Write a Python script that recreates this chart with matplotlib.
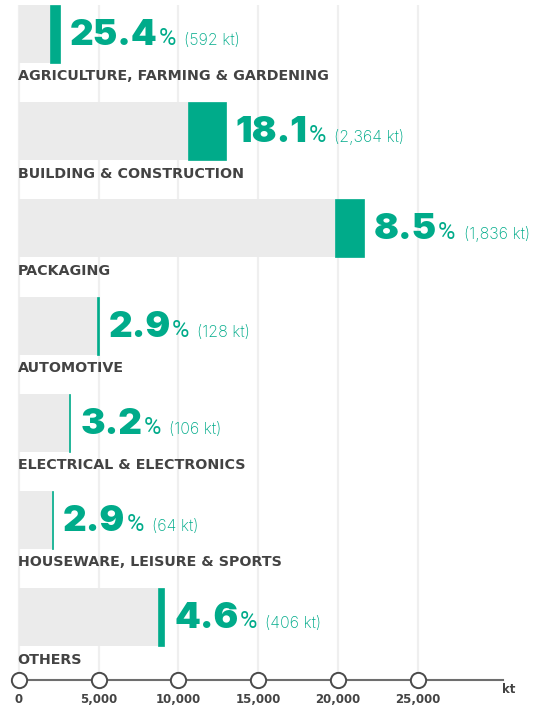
import matplotlib
matplotlib.use("Agg")
import matplotlib.pyplot as plt
import matplotlib.transforms as mtransforms

categories = ["AGRICULTURE, FARMING & GARDENING", "BUILDING & CONSTRUCTION", "PACKAGING",
              "AUTOMOTIVE", "ELECTRICAL & ELECTRONICS", "HOUSEWARE, LEISURE & SPORTS", "OTHERS"]
other_kt = [1980, 10600, 19800, 4880, 3130, 2090, 8710]
recycled_kt = [592, 2364, 1836, 128, 106, 64, 406]
rate_pct = [25.4, 18.1, 8.5, 2.9, 3.2, 2.9, 4.6]
recycled_labels = ["592", "2,364", "1,836", "128", "106", "64", "406"]
xticks = [0, 5000, 10000, 15000, 20000, 25000]
xtick_labels = ["0", "5,000", "10,000", "15,000", "20,000", "25,000"]

GREEN = "#00AB8A"
GREY = "#EBEBEB"
DARK = "#434343"
FONT = "Inter"
LABEL_FONT = "DejaVu Sans"

W, H = 537, 706
fig = plt.figure(figsize=(W / 100, H / 100), dpi=100)
ax = fig.add_axes([0, 0, 1, 1])
# x: 0 kt -> 18.7px, 25000 kt -> 417.7px
x0px, sc = 18.7, (417.7 - 18.7) / 25000
ax.set_xlim(-x0px / sc, (W - x0px) / sc)
# y: row i center at 34 + 97.2*i px from top
top0, pitch = 34.0, 97.2
ax.set_ylim((H - top0) / pitch, -top0 / pitch)
ax.axis("off")

def ypx(px):
    return (px - top0) / pitch

def off(dx=0, dy=0):
    return mtransforms.offset_copy(ax.transData, fig=fig, x=dx, y=dy, units="dots")

axis_y = ypx(680)
# gridlines
for t in xticks:
    ax.plot([t, t], [ypx(5), axis_y], color="#EFEFEF", lw=1.6, zorder=0, solid_capstyle="butt")

n = len(categories)
ys = list(range(n))
bar_h = 58 / pitch
ax.barh(ys, other_kt, height=bar_h, color=GREY, zorder=2, linewidth=0)
ax.barh(ys, recycled_kt, left=other_kt, height=bar_h, color=GREEN, zorder=3,
        edgecolor=GREEN, linewidth=0.5)

fig.canvas.draw()
renderer = fig.canvas.get_renderer()
inv = ax.transData.inverted()

for i in range(n):
    end = other_kt[i] + recycled_kt[i]
    t1 = ax.text(end, i, f"{rate_pct[i]}", transform=off(10, -11), fontsize=26.5,
                 fontweight=900, family=FONT, color=GREEN, ha="left", va="baseline", zorder=5)
    bb = t1.get_window_extent(renderer)
    xd = inv.transform((bb.x1 + 1, 0))[0]
    t2 = ax.text(xd, i, "%", transform=off(0, -11), fontsize=17, fontweight="normal",
                 family="Roboto", color=GREEN, ha="left", va="baseline", zorder=5)
    bb2 = t2.get_window_extent(renderer)
    xd2 = inv.transform((bb2.x1 + 8, 0))[0]
    ax.text(xd2, i, f"({recycled_labels[i]} kt)", transform=off(0, -11), fontsize=11.5,
            fontweight="light", family=FONT, color=GREEN, ha="left", va="baseline", zorder=5)
    ax.text(0, i, categories[i], transform=off(-1, -46.5), fontsize=10.3, fontweight="bold",
            family=LABEL_FONT, color=DARK, ha="left", va="baseline", zorder=5)

# axis line with circle markers
ax.plot([0, (503 - x0px) / sc], [axis_y, axis_y], color="#6E6E6E", lw=1.5, zorder=4)
ax.plot(xticks, [axis_y] * len(xticks), linestyle="none", marker="o", markersize=11,
        markerfacecolor="white", markeredgecolor="#4A4A4A", markeredgewidth=1.4, zorder=6)
for t, lab in zip(xticks, xtick_labels):
    ax.text(t, axis_y, lab, transform=off(0, -23.5), fontsize=8.5, fontweight="bold",
            family=LABEL_FONT, color=DARK, ha="center", va="baseline")
ax.text((509 - x0px) / sc, axis_y, "kt", transform=off(0, -10), fontsize=8.5, fontweight="bold",
        family=LABEL_FONT, color=DARK, ha="center", va="center")

fig.savefig("out.png", dpi=100)
